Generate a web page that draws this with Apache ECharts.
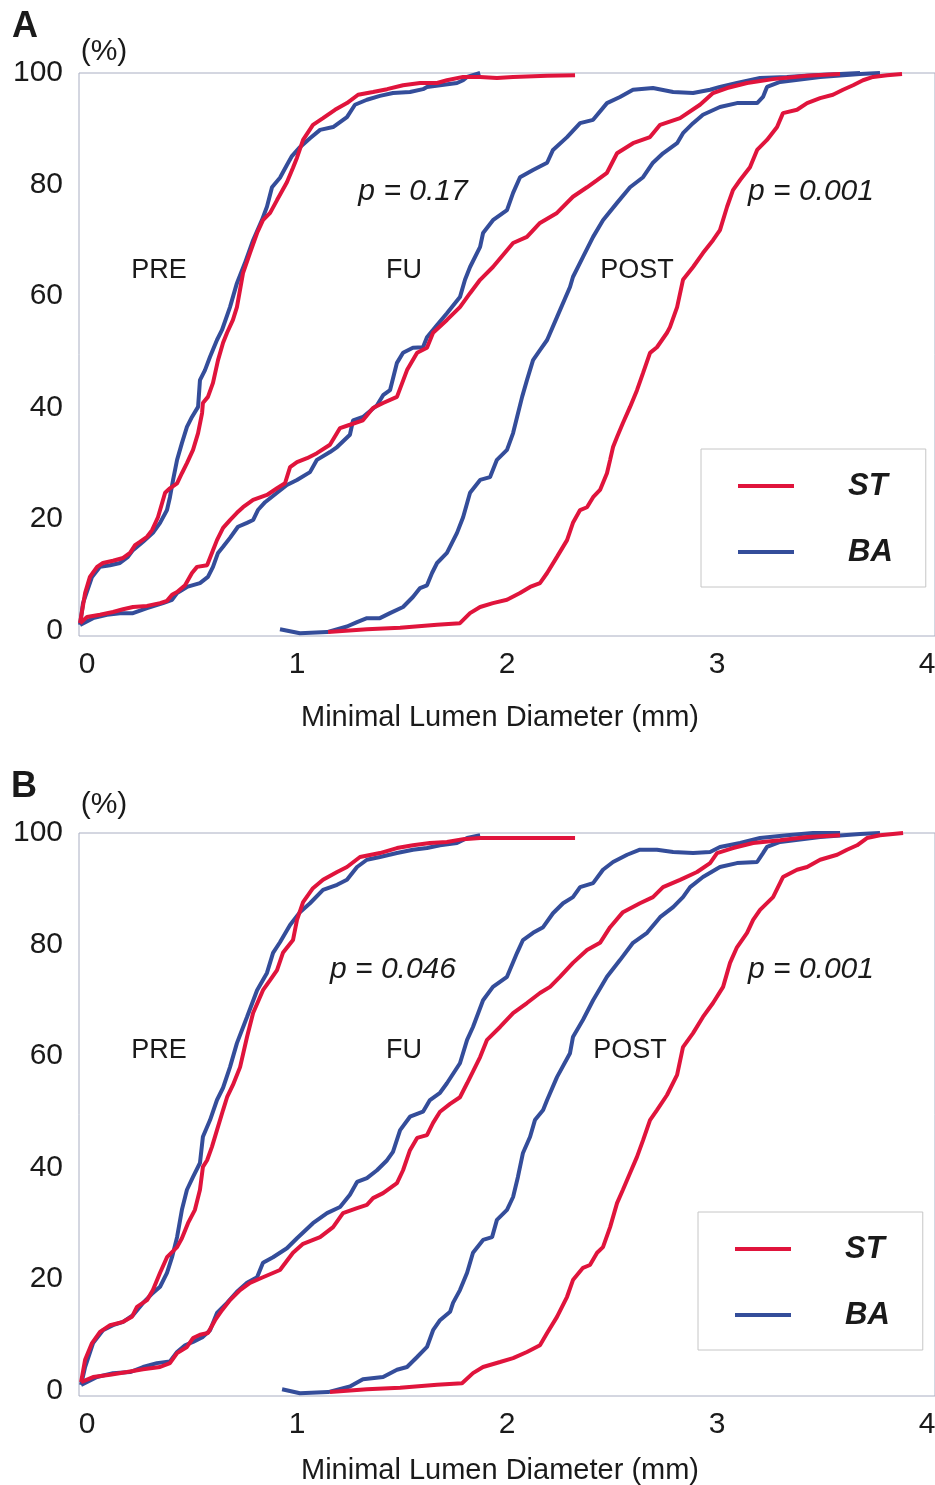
<!DOCTYPE html>
<html><head><meta charset="utf-8">
<script src="https://cdn.jsdelivr.net/npm/echarts@6/dist/echarts.min.js"></script>
<style>html,body{margin:0;padding:0;background:#fff}#c{width:935px;height:1485px}</style>
</head><body><div id="c"></div>
<script>
// tick labels
const xTicks = [0, 1, 2, 3, 4];
const yTicks = [0, 20, 40, 60, 80, 100];
const groupNames = ['ST', 'BA'];

// Panel A — cumulative % vs minimal lumen diameter (mm)
const preST_A = [[0.005,1.3],[0.029,6.7],[0.052,9.6],[0.086,11.4],[0.114,12.1],[0.162,12.5],[0.210,13.0],[0.243,13.9],[0.267,15.3],[0.290,15.9],[0.324,16.8],[0.348,18.0],[0.376,20.3],[0.410,24.7],[0.433,25.5],[0.467,26.4],[0.490,28.2],[0.514,30.0],[0.543,32.4],[0.567,35.4],[0.586,39.0],[0.590,40.8],[0.614,41.9],[0.638,44.4],[0.662,48.5],[0.686,51.6],[0.705,53.4],[0.733,55.7],[0.752,58.0],[0.781,64.1],[0.814,67.7],[0.848,71.3],[0.876,73.6],[0.910,74.9],[0.943,77.2],[0.990,80.4],[1.019,83.0],[1.038,84.8],[1.067,88.0],[1.114,90.7],[1.162,91.9],[1.219,93.4],[1.276,94.6],[1.329,96.1],[1.400,96.6],[1.467,97.1],[1.543,97.8],[1.624,98.2],[1.705,98.2],[1.752,98.7],[1.829,99.3],[1.910,99.3],[1.990,99.1],[2.067,99.3],[2.229,99.5],[2.362,99.6]];
const preBA_A = [[0.005,1.0],[0.019,4.9],[0.062,9.6],[0.100,11.4],[0.148,11.7],[0.195,12.1],[0.233,13.2],[0.257,14.4],[0.305,15.9],[0.352,17.5],[0.386,19.3],[0.419,21.6],[0.433,23.9],[0.448,27.0],[0.467,30.6],[0.490,33.6],[0.514,36.5],[0.538,38.3],[0.567,40.1],[0.576,44.9],[0.600,46.7],[0.624,49.1],[0.657,52.1],[0.681,53.9],[0.719,58.0],[0.752,62.3],[0.790,65.9],[0.829,70.0],[0.871,73.6],[0.895,76.0],[0.919,79.5],[0.957,81.2],[0.990,83.5],[1.014,85.1],[1.052,86.7],[1.100,88.3],[1.148,89.8],[1.210,90.3],[1.276,92.1],[1.314,94.3],[1.371,95.2],[1.433,95.9],[1.495,96.4],[1.576,96.6],[1.638,97.1],[1.657,97.5],[1.719,97.8],[1.800,98.2],[1.829,98.7],[1.848,99.3],[1.910,100]];
const fuST_A = [[0.005,1.3],[0.038,2.4],[0.100,2.8],[0.162,3.3],[0.210,3.8],[0.257,4.2],[0.324,4.4],[0.386,4.9],[0.419,5.3],[0.443,6.4],[0.467,6.9],[0.505,8.1],[0.538,10.3],[0.562,11.4],[0.610,11.7],[0.638,14.4],[0.657,16.2],[0.686,18.4],[0.719,19.8],[0.752,21.1],[0.781,22.1],[0.829,23.4],[0.895,24.3],[0.943,25.5],[0.981,26.4],[1.005,29.3],[1.038,30.2],[1.086,30.9],[1.133,31.8],[1.195,33.3],[1.243,36.3],[1.290,36.9],[1.352,37.7],[1.400,39.9],[1.448,40.8],[1.514,41.9],[1.562,46.7],[1.610,49.8],[1.657,50.7],[1.686,53.4],[1.752,55.7],[1.814,58.0],[1.862,60.5],[1.910,62.9],[1.971,65.2],[2.067,69.5],[2.133,70.6],[2.195,73.1],[2.276,74.9],[2.352,77.8],[2.419,79.5],[2.467,80.8],[2.514,82.1],[2.562,85.6],[2.638,87.4],[2.719,88.5],[2.767,90.7],[2.862,91.9],[2.957,94.3],[3.019,96.4],[3.086,97.3],[3.181,98.2],[3.305,98.9],[3.467,99.5],[3.624,99.8]];
const fuBA_A = [[0.005,1.0],[0.067,2.2],[0.133,2.8],[0.195,3.1],[0.257,3.1],[0.324,4.0],[0.400,4.9],[0.443,5.5],[0.467,6.7],[0.514,7.8],[0.576,8.5],[0.614,9.6],[0.638,11.4],[0.662,13.9],[0.686,15.0],[0.719,16.6],[0.757,18.6],[0.800,19.3],[0.829,19.8],[0.852,21.6],[0.886,23.0],[0.943,24.7],[0.990,26.1],[1.038,27.0],[1.100,28.4],[1.133,30.6],[1.195,32.0],[1.229,32.9],[1.290,35.1],[1.305,37.7],[1.352,38.3],[1.419,40.4],[1.448,42.2],[1.481,43.1],[1.514,48.0],[1.543,49.8],[1.590,50.7],[1.638,50.8],[1.657,52.6],[1.705,54.8],[1.752,56.9],[1.814,59.8],[1.838,62.9],[1.862,65.2],[1.910,68.8],[1.924,71.3],[1.971,73.6],[2.038,75.4],[2.067,78.5],[2.100,81.3],[2.162,82.6],[2.229,83.9],[2.257,86.2],[2.324,88.5],[2.386,91.0],[2.448,91.6],[2.514,94.6],[2.576,95.7],[2.638,97.0],[2.733,97.3],[2.829,96.6],[2.924,96.4],[3.005,97.0],[3.052,97.5],[3.133,98.2],[3.243,99.1],[3.371,99.3],[3.495,99.6],[3.624,99.8],[3.719,100]];
const postST_A = [[1.186,-0.3],[1.371,0.2],[1.529,0.5],[1.705,1.0],[1.814,1.3],[1.862,3.1],[1.910,4.2],[1.971,4.9],[2.038,5.5],[2.100,6.7],[2.148,7.8],[2.195,8.5],[2.229,10.3],[2.276,13.2],[2.324,16.2],[2.352,19.3],[2.386,21.6],[2.419,22.1],[2.448,23.9],[2.481,25.2],[2.514,28.2],[2.529,30.6],[2.543,32.9],[2.562,34.7],[2.590,37.2],[2.624,40.1],[2.657,43.1],[2.686,46.2],[2.719,49.8],[2.752,50.8],[2.800,53.4],[2.814,54.4],[2.848,58.0],[2.876,62.9],[2.924,65.2],[2.971,67.7],[3.019,70.0],[3.052,71.8],[3.086,76.0],[3.114,79.0],[3.148,80.8],[3.195,83.1],[3.229,86.2],[3.276,88.0],[3.324,90.3],[3.352,92.8],[3.419,93.4],[3.467,94.6],[3.529,95.5],[3.590,96.1],[3.638,97.0],[3.686,97.8],[3.733,98.7],[3.781,99.3],[3.848,99.6],[3.919,99.8]];
const postBA_A = [[0.957,0.2],[1.052,-0.5],[1.181,-0.3],[1.276,0.7],[1.324,1.5],[1.371,2.2],[1.433,2.2],[1.481,3.1],[1.543,4.2],[1.590,6.0],[1.624,7.6],[1.657,8.1],[1.681,10.3],[1.705,12.1],[1.752,13.9],[1.776,15.7],[1.800,17.5],[1.829,20.3],[1.862,24.7],[1.910,27.0],[1.957,27.5],[1.990,30.6],[2.038,32.4],[2.067,35.4],[2.086,38.3],[2.110,41.9],[2.133,44.9],[2.162,48.5],[2.195,50.3],[2.229,52.1],[2.276,56.2],[2.338,61.6],[2.352,63.4],[2.400,67.0],[2.448,70.6],[2.495,73.6],[2.562,76.7],[2.624,79.5],[2.686,81.3],[2.733,83.9],[2.781,85.6],[2.848,87.4],[2.876,89.2],[2.924,91.0],[2.971,92.5],[3.052,93.9],[3.133,94.6],[3.229,94.6],[3.257,95.7],[3.276,97.5],[3.338,98.4],[3.529,99.3],[3.719,99.8],[3.814,100]];

// Panel B
const preST_B = [[0.010,1.5],[0.029,5.5],[0.062,8.5],[0.100,10.5],[0.148,11.7],[0.210,12.3],[0.252,13.2],[0.276,15.0],[0.324,16.2],[0.352,18.0],[0.386,21.1],[0.419,23.9],[0.467,25.7],[0.490,27.3],[0.519,30.0],[0.552,32.4],[0.576,36.0],[0.590,40.1],[0.610,41.3],[0.633,43.7],[0.657,46.7],[0.686,50.3],[0.705,52.6],[0.733,54.8],[0.767,58.0],[0.800,63.4],[0.829,67.7],[0.876,71.8],[0.910,73.6],[0.943,75.4],[0.971,78.5],[1.019,80.8],[1.038,84.4],[1.067,87.6],[1.114,90.1],[1.162,91.6],[1.229,93.0],[1.276,93.9],[1.338,95.7],[1.433,96.4],[1.514,97.3],[1.590,97.8],[1.671,98.2],[1.752,98.4],[1.829,98.9],[1.910,99.1],[2.067,99.1],[2.229,99.1],[2.362,99.1]];
const preBA_B = [[0.010,1.0],[0.029,4.2],[0.067,8.5],[0.114,10.8],[0.162,11.7],[0.210,12.3],[0.257,13.5],[0.305,15.7],[0.352,17.5],[0.386,18.6],[0.419,21.1],[0.443,23.9],[0.467,27.5],[0.490,32.4],[0.514,36.0],[0.543,38.3],[0.576,40.8],[0.590,45.5],[0.624,48.5],[0.657,52.1],[0.686,54.3],[0.719,58.0],[0.752,62.3],[0.800,67.0],[0.848,71.8],[0.895,74.9],[0.924,78.5],[0.957,80.4],[1.005,83.5],[1.052,85.8],[1.100,87.4],[1.162,89.8],[1.229,90.7],[1.276,91.6],[1.324,93.9],[1.371,95.2],[1.433,95.7],[1.514,96.4],[1.590,97.0],[1.657,97.3],[1.719,97.8],[1.800,98.2],[1.848,99.1],[1.910,99.6]];
const fuST_B = [[0.010,1.5],[0.067,2.4],[0.148,2.8],[0.229,3.3],[0.305,3.8],[0.386,4.2],[0.433,4.9],[0.467,6.7],[0.514,7.8],[0.543,9.4],[0.576,10.0],[0.614,10.3],[0.648,12.6],[0.681,14.4],[0.719,16.2],[0.767,18.0],[0.814,19.3],[0.876,20.3],[0.957,21.6],[1.019,24.7],[1.067,26.3],[1.148,27.5],[1.210,29.3],[1.257,31.8],[1.324,32.7],[1.371,33.3],[1.400,34.5],[1.448,35.4],[1.514,37.2],[1.543,39.5],[1.576,43.1],[1.610,45.3],[1.657,45.8],[1.686,48.0],[1.719,50.0],[1.767,51.4],[1.814,52.6],[1.848,55.1],[1.910,59.8],[1.943,62.9],[2.005,65.2],[2.067,67.7],[2.133,69.5],[2.195,71.3],[2.243,72.4],[2.290,74.2],[2.352,76.7],[2.419,79.0],[2.481,80.3],[2.529,83.1],[2.590,85.8],[2.671,87.4],[2.733,88.5],[2.781,90.3],[2.862,91.6],[2.943,93.0],[3.005,94.6],[3.038,96.4],[3.114,97.3],[3.210,98.2],[3.338,98.7],[3.467,99.3],[3.624,99.6]];
const fuBA_B = [[0.010,1.0],[0.086,2.4],[0.162,3.1],[0.243,3.3],[0.305,4.2],[0.371,4.9],[0.433,5.2],[0.467,6.9],[0.505,8.1],[0.543,8.7],[0.590,9.6],[0.624,10.8],[0.657,13.9],[0.705,15.7],[0.752,17.7],[0.800,19.3],[0.848,20.3],[0.876,22.9],[0.924,23.9],[0.990,25.5],[1.038,27.3],[1.114,30.0],[1.181,31.8],[1.243,32.9],[1.290,35.1],[1.324,37.4],[1.371,38.1],[1.419,39.5],[1.467,41.3],[1.495,42.8],[1.529,46.7],[1.576,49.1],[1.638,50.0],[1.671,52.1],[1.719,53.4],[1.752,55.1],[1.814,58.7],[1.848,62.9],[1.876,65.2],[1.924,70.0],[1.971,72.4],[2.038,74.2],[2.086,78.5],[2.114,80.8],[2.162,82.1],[2.210,83.1],[2.257,85.6],[2.305,87.4],[2.352,88.5],[2.386,90.3],[2.448,91.0],[2.495,93.4],[2.543,94.8],[2.610,96.1],[2.671,97.0],[2.752,97.0],[2.829,96.6],[2.924,96.4],[3.005,96.6],[3.052,97.5],[3.148,98.2],[3.243,99.1],[3.371,99.6],[3.495,100],[3.624,100]];
const postST_B = [[1.195,-0.3],[1.371,0.2],[1.529,0.5],[1.705,1.0],[1.824,1.3],[1.876,3.1],[1.924,4.2],[2.005,5.1],[2.067,5.8],[2.133,6.9],[2.195,8.1],[2.229,10.3],[2.276,13.2],[2.324,16.8],[2.352,19.8],[2.400,22.0],[2.433,22.5],[2.467,24.7],[2.495,25.7],[2.529,29.3],[2.562,33.6],[2.590,36.0],[2.624,39.0],[2.657,41.9],[2.686,44.9],[2.719,48.5],[2.752,50.3],[2.800,53.0],[2.848,56.6],[2.876,61.6],[2.924,64.1],[2.971,67.0],[3.019,69.5],[3.067,72.4],[3.100,76.7],[3.133,79.5],[3.181,82.1],[3.210,84.4],[3.243,86.2],[3.305,88.5],[3.352,92.1],[3.419,93.4],[3.467,93.9],[3.529,95.2],[3.610,96.1],[3.657,97.0],[3.705,97.8],[3.752,99.1],[3.814,99.6],[3.924,100]];
const postBA_B = [[0.967,0.2],[1.052,-0.5],[1.186,-0.3],[1.290,0.7],[1.352,2.0],[1.448,2.4],[1.514,3.7],[1.562,4.2],[1.610,6.0],[1.657,7.8],[1.686,10.8],[1.719,12.6],[1.767,14.1],[1.781,15.7],[1.814,18.0],[1.848,21.1],[1.876,24.7],[1.924,27.0],[1.967,27.5],[1.990,30.6],[2.038,32.4],[2.067,34.7],[2.090,38.3],[2.114,42.6],[2.148,45.5],[2.171,48.5],[2.210,50.3],[2.229,52.1],[2.276,56.2],[2.338,60.5],[2.352,63.4],[2.400,66.5],[2.448,70.0],[2.514,74.2],[2.576,77.2],[2.638,80.3],[2.705,82.1],[2.767,84.9],[2.829,86.7],[2.876,88.5],[2.910,90.3],[2.971,92.1],[3.052,93.9],[3.133,94.6],[3.229,94.8],[3.257,96.4],[3.276,97.5],[3.338,98.4],[3.529,99.3],[3.719,99.8],[3.814,100]];

const FONT = '"Liberation Sans", Arial, Helvetica, sans-serif';
const RED = '#e0143c', BLUE = '#344d9a', INK = '#1a1a1a';

const chart = echarts.init(document.getElementById('c'), null, {renderer: 'canvas'});

function makeGrid(top) {
  return {left: 79, top: top, width: 856, height: 563, show: true,
    borderColor: '#a9aec2', borderWidth: 1, backgroundColor: 'transparent', outerBoundsMode: 'none'};
}
function makeX(i, gap) {
  return {type: 'value', gridIndex: i, min: 0, max: 4.076,
    axisLine: {show: false}, axisTick: {show: false}, splitLine: {show: false},
    axisLabel: {customValues: xTicks, fontSize: 30, color: INK, margin: 14, padding: [0, 0, 0, 16], fontFamily: FONT},
    name: 'Minimal Lumen Diameter (mm)', nameLocation: 'middle', nameGap: gap,
    nameTextStyle: {fontSize: 29, color: INK, fontFamily: FONT, padding: [0, 14, 0, 0]}};
}
function makeY(i) {
  return {type: 'value', gridIndex: i, min: -1, max: 100,
    axisLine: {show: false}, axisTick: {show: false}, splitLine: {show: false},
    axisLabel: {customValues: yTicks, fontSize: 30, color: INK, margin: 16, fontFamily: FONT}};
}
function makeLine(name, data, i) {
  const col = name === groupNames[0] ? RED : BLUE;
  return {type: 'line', name: name, data: data, xAxisIndex: i, yAxisIndex: i,
    showSymbol: false, symbol: 'none', smooth: false, silent: true,
    lineStyle: {width: 4, color: col}, itemStyle: {color: col},
    z: name === groupNames[0] ? 3 : 2};
}
function makeLegend(left, top) {
  return {orient: 'vertical', left: left, top: top, padding: [19, 33, 17, 37], itemGap: 30,
    itemWidth: 56, itemHeight: 4, icon: 'rect', borderColor: '#c6c6c6', borderWidth: 1,
    selectedMode: false, data: groupNames,
    textStyle: {fontSize: 31, fontWeight: 'bold', fontStyle: 'italic', color: INK, fontFamily: FONT,
      lineHeight: 36, padding: [0, 0, 0, 49]}};
}
function txt(s, x, y, size, extra) {
  return {type: 'text', x: x, y: y, silent: true,
    style: Object.assign({text: s, fontSize: size, fontFamily: FONT, fill: INK, align: 'center', verticalAlign: 'middle'}, extra || {})};
}

chart.setOption({
  animation: false,
  backgroundColor: '#fff',
  textStyle: {fontFamily: FONT},
  grid: [makeGrid(73), makeGrid(833)],
  xAxis: [makeX(0, 67), makeX(1, 60)],
  yAxis: [makeY(0), makeY(1)],
  legend: [makeLegend(701, 449), makeLegend(698, 1212)],
  series: [
    makeLine('BA', preBA_A, 0), makeLine('ST', preST_A, 0),
    makeLine('BA', fuBA_A, 0), makeLine('ST', fuST_A, 0),
    makeLine('BA', postBA_A, 0), makeLine('ST', postST_A, 0),
    makeLine('BA', preBA_B, 1), makeLine('ST', preST_B, 1),
    makeLine('BA', fuBA_B, 1), makeLine('ST', fuST_B, 1),
    makeLine('BA', postBA_B, 1), makeLine('ST', postST_B, 1)
  ],
  graphic: [
    txt('A', 25, 27, 36, {fontWeight: 'bold'}),
    txt('(%)', 104, 52, 30),
    txt('PRE', 159, 271, 27),
    txt('FU', 404, 271, 27),
    txt('POST', 637, 271, 27),
    txt('p = 0.17', 413, 192, 30, {fontStyle: 'italic'}),
    txt('p = 0.001', 811, 192, 30, {fontStyle: 'italic'}),
    txt('B', 24, 787, 36, {fontWeight: 'bold'}),
    txt('(%)', 104, 805, 30),
    txt('PRE', 159, 1051, 27),
    txt('FU', 404, 1051, 27),
    txt('POST', 630, 1051, 27),
    txt('p = 0.046', 393, 970, 30, {fontStyle: 'italic'}),
    txt('p = 0.001', 811, 970, 30, {fontStyle: 'italic'})
  ]
});
</script></body></html>
